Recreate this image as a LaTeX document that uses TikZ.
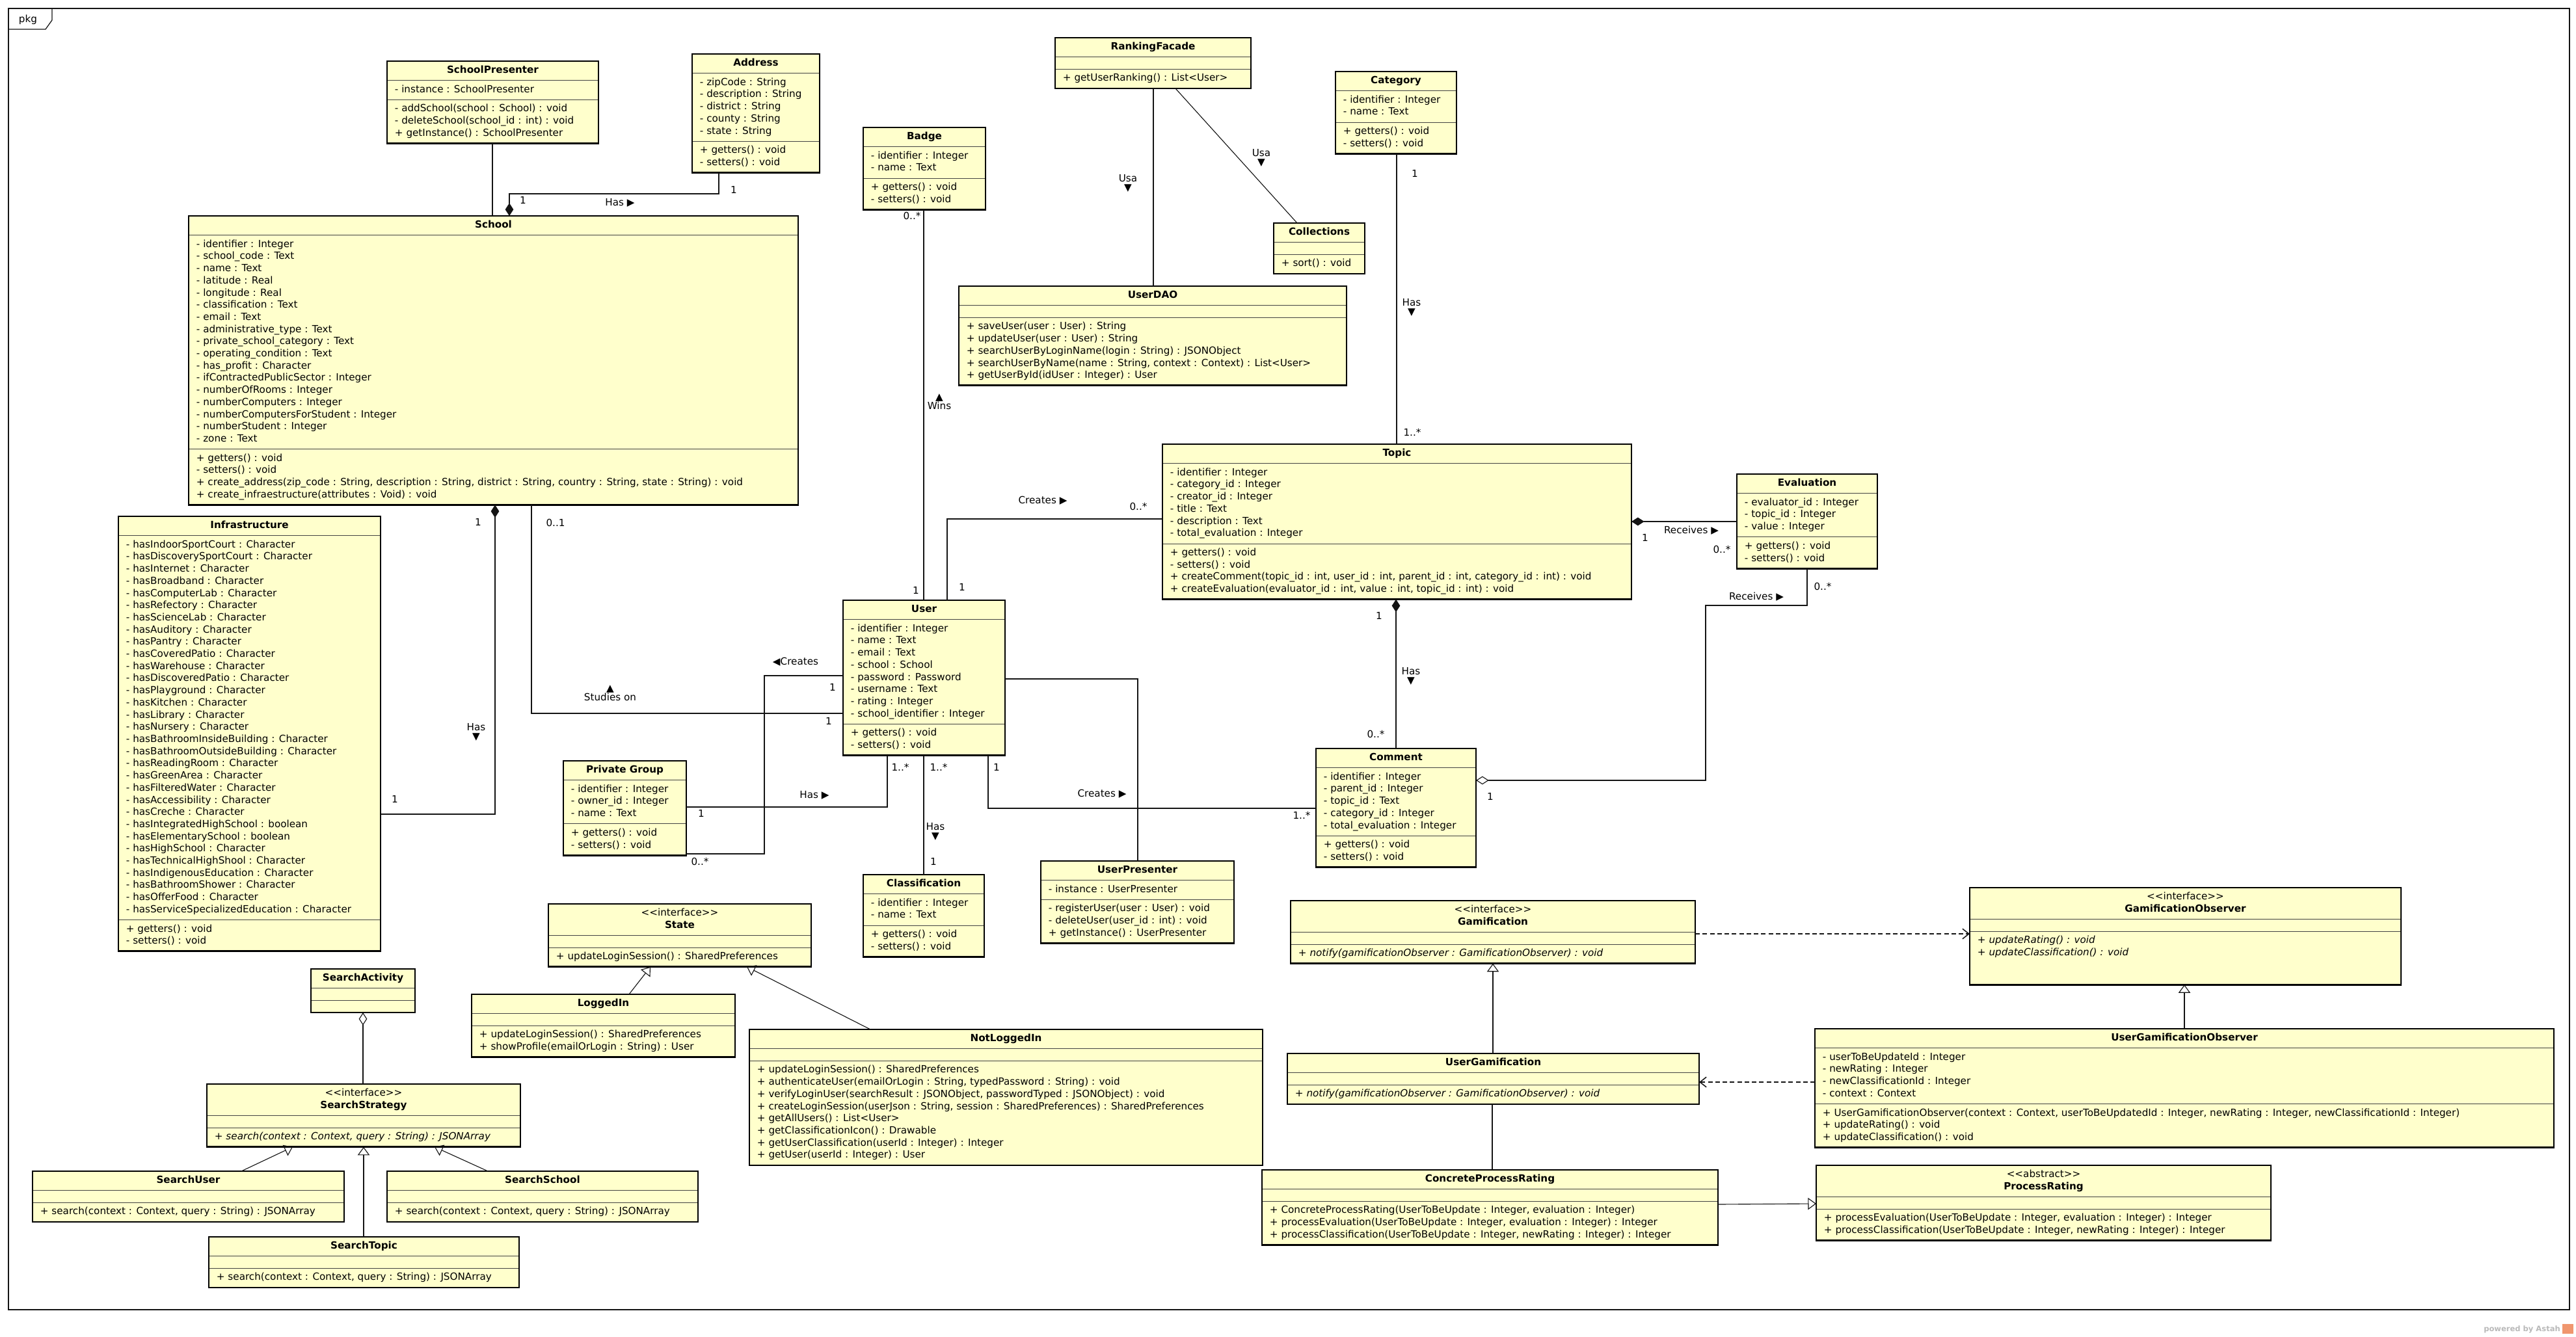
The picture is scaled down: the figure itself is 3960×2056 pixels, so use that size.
\documentclass[tikz,border=0pt]{standalone}
\usepackage{fontspec}
\setmainfont{DejaVu Sans}
\usetikzlibrary{arrows.meta,shapes.multipart,positioning}
\definecolor{classfill}{RGB}{255,255,204}
\definecolor{ink}{RGB}{20,20,20}
\definecolor{astahgray}{RGB}{185,185,185}
\definecolor{astahorange}{RGB}{240,150,110}
\newcommand{\umlfont}{\fontsize{10.8pt}{13.3pt}\selectfont}
\newcommand{\cls}[1]{\begin{tabular}{@{}c@{}}\textbf{#1}\end{tabular}}
\newcommand{\stereo}[2]{\begin{tabular}{@{}c@{}}<{}<#1>{}>\\\textbf{#2}\end{tabular}}
\newcommand{\mbr}[1]{\begin{tabular}{@{}l@{}}#1\end{tabular}}
\tikzset{
  umlclass/.style={rectangle split,rectangle split parts=3,
    rectangle split part align={center,left,left},
    rectangle split empty part height=0.5pt,rectangle split empty part depth=0pt,
    draw=ink!80,line width=0.5pt,fill=classfill,anchor=north west,
    inner xsep=8.5pt,inner ysep=3.65pt,outer sep=0pt,
    minimum width=#1*0.025cm,font=\umlfont},
  border/.style={draw=black,line width=2pt},
  frame/.style={draw=ink,line width=0.9pt},
  conn/.style={draw=ink,line width=0.8pt},
  comp/.style={conn,{Diamond[length=14pt,width=9pt]}-},
  aggr/.style={conn,{Diamond[open,length=14pt,width=9pt]}-},
  inherit/.style={conn,-{Triangle[open,length=9pt,width=13pt]}},
  depend/.style={conn,line width=1.1pt,dash pattern=on 5pt off 3pt,-{Straight Barb[length=7pt,width=11pt]}},
  lbl/.style={font=\umlfont,inner sep=0pt,align=center},
}
\begin{document}
\begin{tikzpicture}[x=0.025cm,y=-0.025cm]
\useasboundingbox (0,0) rectangle (3960,2056);
% package frame
\draw[frame] (13,13) rectangle (3950,2014);
\draw[frame] (13,45) -- (70,45) -- (80,31) -- (80,13);
\node[lbl] (pkg) at (43,30) {pkg};

% school side
\node[umlclass=325] (spres) at (595,94) {\cls{SchoolPresenter}
  \nodepart{two}\mbr{- instance : SchoolPresenter}
  \nodepart{three}\mbr{- addSchool(school : School) : void\\- deleteSchool(school\_id : int) : void\\+ getInstance() : SchoolPresenter}};
\node[umlclass=196] (address) at (1064,83) {\cls{Address}
  \nodepart{two}\mbr{- zipCode : String\\- description : String\\- district : String\\- county : String\\- state : String}
  \nodepart{three}\mbr{+ getters() : void\\- setters() : void}};
\node[umlclass=937] (school) at (290,332) {\cls{School}
  \nodepart{two}\mbr{- identifier : Integer\\- school\_code : Text\\- name : Text\\- latitude : Real\\- longitude : Real\\- classification : Text\\- email : Text\\- administrative\_type : Text\\- private\_school\_category : Text\\- operating\_condition : Text\\- has\_profit : Character\\- ifContractedPublicSector : Integer\\- numberOfRooms : Integer\\- numberComputers : Integer\\- numberComputersForStudent : Integer\\- numberStudent : Integer\\- zone : Text}
  \nodepart{three}\mbr{+ getters() : void\\- setters() : void\\+ create\_address(zip\_code : String, description : String, district : String, country : String, state : String) : void\\+ create\_infraestructure(attributes : Void) : void}};
\node[umlclass=403] (infra) at (182,794) {\cls{Infrastructure}
  \nodepart{two}\mbr{- hasIndoorSportCourt : Character\\- hasDiscoverySportCourt : Character\\- hasInternet : Character\\- hasBroadband : Character\\- hasComputerLab : Character\\- hasRefectory : Character\\- hasScienceLab : Character\\- hasAuditory : Character\\- hasPantry : Character\\- hasCoveredPatio : Character\\- hasWarehouse : Character\\- hasDiscoveredPatio : Character\\- hasPlayground : Character\\- hasKitchen : Character\\- hasLibrary : Character\\- hasNursery : Character\\- hasBathroomInsideBuilding : Character\\- hasBathroomOutsideBuilding : Character\\- hasReadingRoom : Character\\- hasGreenArea : Character\\- hasFilteredWater : Character\\- hasAccessibility : Character\\- hasCreche : Character\\- hasIntegratedHighSchool : boolean\\- hasElementarySchool : boolean\\- hasHighSchool : Character\\- hasTechnicalHighShool : Character\\- hasIndigenousEducation : Character\\- hasBathroomShower : Character\\- hasOfferFood : Character\\- hasServiceSpecializedEducation : Character}
  \nodepart{three}\mbr{+ getters() : void\\- setters() : void}};

% ranking and users
\node[umlclass=301] (rf) at (1622,58) {\cls{RankingFacade}
  \nodepart{two}
  \nodepart{three}\mbr{+ getUserRanking() : List<User>}};
\node[umlclass=188] (badge) at (1327,196) {\cls{Badge}
  \nodepart{two}\mbr{- identifier : Integer\\- name : Text}
  \nodepart{three}\mbr{+ getters() : void\\- setters() : void}};
\node[umlclass=186] (cat) at (2053,110) {\cls{Category}
  \nodepart{two}\mbr{- identifier : Integer\\- name : Text}
  \nodepart{three}\mbr{+ getters() : void\\- setters() : void}};
\node[umlclass=140] (coll) at (1958,343) {\cls{Collections}
  \nodepart{two}
  \nodepart{three}\mbr{+ sort() : void}};
\node[umlclass=596] (userdao) at (1474,440) {\cls{UserDAO}
  \nodepart{two}
  \nodepart{three}\mbr{+ saveUser(user : User) : String\\+ updateUser(user : User) : String\\+ searchUserByLoginName(login : String) : JSONObject\\+ searchUserByName(name : String, context : Context) : List<User>\\+ getUserById(idUser : Integer) : User}};
\node[umlclass=721] (topic) at (1787,683) {\cls{Topic}
  \nodepart{two}\mbr{- identifier : Integer\\- category\_id : Integer\\- creator\_id : Integer\\- title : Text\\- description : Text\\- total\_evaluation : Integer}
  \nodepart{three}\mbr{+ getters() : void\\- setters() : void\\+ createComment(topic\_id : int, user\_id : int, parent\_id : int, category\_id : int) : void\\+ createEvaluation(evaluator\_id : int, value : int, topic\_id : int) : void}};
\node[umlclass=216] (eval) at (2670,729) {\cls{Evaluation}
  \nodepart{two}\mbr{- evaluator\_id : Integer\\- topic\_id : Integer\\- value : Integer}
  \nodepart{three}\mbr{+ getters() : void\\- setters() : void}};
\node[umlclass=249] (user) at (1296,923) {\cls{User}
  \nodepart{two}\mbr{- identifier : Integer\\- name : Text\\- email : Text\\- school : School\\- password : Password\\- username : Text\\- rating : Integer\\- school\_identifier : Integer}
  \nodepart{three}\mbr{+ getters() : void\\- setters() : void}};
\node[umlclass=246] (comment) at (2023,1151) {\cls{Comment}
  \nodepart{two}\mbr{- identifier : Integer\\- parent\_id : Integer\\- topic\_id : Text\\- category\_id : Integer\\- total\_evaluation : Integer}
  \nodepart{three}\mbr{+ getters() : void\\- setters() : void}};
\node[umlclass=189] (pg) at (866,1170) {\cls{Private Group}
  \nodepart{two}\mbr{- identifier : Integer\\- owner\_id : Integer\\- name : Text}
  \nodepart{three}\mbr{+ getters() : void\\- setters() : void}};
\node[umlclass=186] (classif) at (1327,1345) {\cls{Classification}
  \nodepart{two}\mbr{- identifier : Integer\\- name : Text}
  \nodepart{three}\mbr{+ getters() : void\\- setters() : void}};
\node[umlclass=297] (upres) at (1600,1324) {\cls{UserPresenter}
  \nodepart{two}\mbr{- instance : UserPresenter}
  \nodepart{three}\mbr{- registerUser(user : User) : void\\- deleteUser(user\_id : int) : void\\+ getInstance() : UserPresenter}};

% login state
\node[umlclass=404] (state) at (843,1390) {\stereo{interface}{State}
  \nodepart{two}
  \nodepart{three}\mbr{+ updateLoginSession() : SharedPreferences}};
\node[umlclass=405] (loggedin) at (725,1529) {\cls{LoggedIn}
  \nodepart{two}
  \nodepart{three}\mbr{+ updateLoginSession() : SharedPreferences\\+ showProfile(emailOrLogin : String) : User}};
\node[umlclass=789] (notlogged) at (1152,1583) {\cls{NotLoggedIn}
  \nodepart{two}
  \nodepart{three}\mbr{+ updateLoginSession() : SharedPreferences\\+ authenticateUser(emailOrLogin : String, typedPassword : String) : void\\+ verifyLoginUser(searchResult : JSONObject, passwordTyped : JSONObject) : void\\+ createLoginSession(userJson : String, session : SharedPreferences) : SharedPreferences\\+ getAllUsers() : List<User>\\+ getClassificationIcon() : Drawable\\+ getUserClassification(userId : Integer) : Integer\\+ getUser(userId : Integer) : User}};

% search strategy
\node[umlclass=160] (sact) at (478,1490) {\cls{SearchActivity}
  \nodepart{two}
  \nodepart{three}};
\node[umlclass=482] (sstrat) at (318,1667) {\stereo{interface}{SearchStrategy}
  \nodepart{two}
  \nodepart{three}\mbr{\textit{+ search(context : Context, query : String) : JSONArray}}};
\node[umlclass=479] (suser) at (50,1801) {\cls{SearchUser}
  \nodepart{two}
  \nodepart{three}\mbr{+ search(context : Context, query : String) : JSONArray}};
\node[umlclass=478] (sschool) at (595,1801) {\cls{SearchSchool}
  \nodepart{two}
  \nodepart{three}\mbr{+ search(context : Context, query : String) : JSONArray}};
\node[umlclass=477] (stopic) at (321,1902) {\cls{SearchTopic}
  \nodepart{two}
  \nodepart{three}\mbr{+ search(context : Context, query : String) : JSONArray}};

% gamification
\node[umlclass=622] (gam) at (1984,1385) {\stereo{interface}{Gamification}
  \nodepart{two}
  \nodepart{three}\mbr{\textit{+ notify(gamificationObserver : GamificationObserver) : void}}};
\node[umlclass=663] (gobs) at (3028,1365) {\stereo{interface}{GamificationObserver}
  \nodepart{two}
  \nodepart{three}\mbr{\textit{+ updateRating() : void}\\\textit{+ updateClassification() : void}\rule[-28pt]{0pt}{0pt}}};
\node[umlclass=633] (ugam) at (1979,1620) {\cls{UserGamification}
  \nodepart{two}
  \nodepart{three}\mbr{\textit{+ notify(gamificationObserver : GamificationObserver) : void}}};
\node[umlclass=1136] (ugobs) at (2790,1582) {\cls{UserGamificationObserver}
  \nodepart{two}\mbr{- userToBeUpdateId : Integer\\- newRating : Integer\\- newClassificationId : Integer\\- context : Context}
  \nodepart{three}\mbr{+ UserGamificationObserver(context : Context, userToBeUpdatedId : Integer, newRating : Integer, newClassificationId : Integer)\\+ updateRating() : void\\+ updateClassification() : void}};
\node[umlclass=701] (cpr) at (1940,1799) {\cls{ConcreteProcessRating}
  \nodepart{two}
  \nodepart{three}\mbr{+ ConcreteProcessRating(UserToBeUpdate : Integer, evaluation : Integer)\\+ processEvaluation(UserToBeUpdate : Integer, evaluation : Integer) : Integer\\+ processClassification(UserToBeUpdate : Integer, newRating : Integer) : Integer}};
\node[umlclass=699] (prate) at (2792,1792) {\stereo{abstract}{ProcessRating}
  \nodepart{two}
  \nodepart{three}\mbr{+ processEvaluation(UserToBeUpdate : Integer, evaluation : Integer) : Integer\\+ processClassification(UserToBeUpdate : Integer, newRating : Integer) : Integer}};

\foreach \c in {spres,address,school,infra,rf,badge,cat,coll,userdao,topic,eval,user,comment,pg,classif,upres,
  state,loggedin,notlogged,sact,sstrat,suser,sschool,stopic,gam,gobs,ugam,ugobs,cpr,prate}
  \draw[border] (\c.north west) rectangle (\c.south east);

% connectors
\draw[conn] (spres.south -| 757,0) -- (school.north -| 757,0);
\draw[comp] (school.north -| 783,0) |- (1105,298) -- (address.south -| 1105,0);
\draw[comp] (school.south -| 761,0) |- (infra.east |- 0,1252);
\draw[conn] (school.south -| 817,0) |- (user.west |- 0,1097);
\draw[conn] (user.west |- 0,1039) -| (1175,1313) -- (pg.east |- 0,1313);
\draw[conn] (pg.east |- 0,1241) -| (user.south -| 1364,0);
\draw[conn] (badge.south -| 1420,0) -- (user.north -| 1420,0);
\draw[conn] (user.north -| 1456,0) |- (topic.west |- 0,798);
\draw[conn] (rf.south -| 1773,0) -- (userdao.north -| 1773,0);
\draw[conn] (rf.south -| 1807,0) -- (coll.north -| 1994,0);
\draw[conn] (cat.south -| 2147,0) -- (topic.north -| 2147,0);
\draw[comp] (topic.south -| 2146,0) -- (comment.north -| 2146,0);
\draw[comp] (topic.east |- 0,802) -- (eval.west |- 0,802);
\draw[aggr] (comment.east |- 0,1200) -| (2622,931) -| (eval.south -| 2778,0);
\draw[conn] (user.east |- 0,1044) -| (upres.north -| 1749,0);
\draw[conn] (user.south -| 1519,0) |- (comment.west |- 0,1243);
\draw[conn] (user.south -| 1420,0) -- (classif.north -| 1420,0);
\draw[inherit] (loggedin.north -| 967,0) -- (state.south -| 1000,0);
\draw[inherit] (notlogged.north -| 1338,0) -- (state.south -| 1148,0);
\draw[aggr] (sact.south -| 558,0) -- (sstrat.north -| 558,0);
\draw[inherit] (suser.north -| 371,0) -- (sstrat.south -| 450,0);
\draw[inherit] (sschool.north -| 750,0) -- (sstrat.south -| 668,0);
\draw[inherit] (stopic.north -| 559,0) -- (sstrat.south -| 559,0);
\draw[depend] (gam.east |- 0,1436) -- (gobs.west |- 0,1436);
\draw[inherit] (ugam.north -| 2295,0) -- (gam.south -| 2295,0);
\draw[inherit] (ugobs.north -| 3358,0) -- (gobs.south -| 3358,0);
\draw[depend] (ugobs.west |- 0,1664) -- (ugam.east |- 0,1664);
\draw[conn] (ugam.south -| 2294,0) -- (cpr.north -| 2294,0);
\draw[inherit] (cpr.east |- 0,1852) -- (prate.west |- 0,1851);

% association names
\node[lbl] (n-addr) at (953,312) {Has ▶};
\node[lbl] (n-infra) at (732,1126) {Has\\[-3.5pt]▼};
\node[lbl] (n-study) at (938,1066) {▲\\[-3.5pt]Studies on};
\node[lbl] (n-pgcre) at (1223,1018) {◀Creates};
\node[lbl] (n-pghas) at (1252,1223) {Has ▶};
\node[lbl] (n-wins) at (1444,618) {▲\\[-3.5pt]Wins};
\node[lbl] (n-tcre) at (1603,770) {Creates ▶};
\node[lbl] (n-usa1) at (1734,282) {Usa\\[-3.5pt]▼};
\node[lbl] (n-usa2) at (1939,243) {Usa\\[-3.5pt]▼};
\node[lbl] (n-cat) at (2170,473) {Has\\[-3.5pt]▼};
\node[lbl] (n-tcom) at (2169,1040) {Has\\[-3.5pt]▼};
\node[lbl] (n-rec1) at (2600,816) {Receives ▶};
\node[lbl] (n-rec2) at (2700,918) {Receives ▶};
\node[lbl] (n-ccre) at (1694,1221) {Creates ▶};
\node[lbl] (n-clas) at (1438,1279) {Has\\[-3.5pt]▼};

% multiplicities
\foreach \x/\y/\t [count=\i] in {1128/292/1, 804/308/1, 735/803/1, 607/1229/1, 854/804/0..1, 1274/1109/1,
  1280/1057/1, 1076/1325/0..*, 1078/1251/1, 1384/1180/1..*, 1402/332/0..*, 1408/908/1, 1479/903/1,
  1750/779/0..*, 2175/267/1, 2171/665/1..*, 2120/947/1, 2115/1129/0..*, 2529/827/1, 2647/845/0..*,
  2291/1225/1, 2802/902/0..*, 1532/1180/1, 2001/1254/1..*, 1443/1180/1..*, 1435/1325/1}
  \node[lbl] (m\i) at (\x,\y) {\t};

% tool mark
\node[font=\fontsize{8.2pt}{9pt}\selectfont\bfseries,text=astahgray,anchor=east,inner sep=0pt] (powered) at (3936,2044) {powered by Astah};
\fill[astahorange] (3939,2036) rectangle (3956,2051);
\end{tikzpicture}
\end{document}
